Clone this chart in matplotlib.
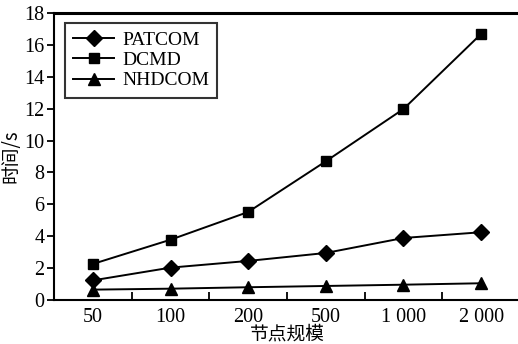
import matplotlib
matplotlib.use("Agg")
import matplotlib.pyplot as plt
import numpy as np

plt.rcParams['font.family'] = ['Liberation Serif', 'Noto Sans CJK SC']
plt.rcParams['mathtext.fontset'] = 'stix'

sizes = ['50', '100', '200', '500', '1 000', '2 000']
patcom = [1.23, 2.03, 2.45, 2.95, 3.89, 4.25]
dcmd = [2.26, 3.78, 5.52, 8.70, 11.98, 16.69]
nhdcom = [0.65, 0.71, 0.80, 0.88, 0.96, 1.05]

fig = plt.figure(figsize=(5.18, 3.44), dpi=100)
ax = fig.add_axes([54 / 518, 44 / 344, 466 / 518, 287 / 344])

x = np.arange(len(sizes))
ax.plot(x, patcom, color='black', lw=1.4, marker='D', ms=8, label='PATCOM')
ax.plot(x, dcmd, color='black', lw=1.4, marker='s', ms=7.5, label='DCMD')
ax.plot(x, nhdcom, color='black', lw=1.4, marker='^', ms=9, label='NHDCOM')

ax.set_xlim(-0.5, 5.5)
ax.set_ylim(0, 18)
ax.set_xticks(x)
ax.set_xticklabels(sizes)
ax.set_xticks(x[:-1] + 0.5, minor=True)
ax.set_yticks(np.arange(0, 19, 2))
ax.tick_params(axis='x', which='major', length=0, labelsize=14.5, pad=6)
ax.tick_params(axis='x', which='minor', direction='in', length=6, width=1.3)
ax.tick_params(axis='y', direction='out', length=5, width=1.3, labelsize=14.5, pad=2)

for s in ['left', 'bottom']:
    ax.spines[s].set_linewidth(1.5)
ax.spines['top'].set_linewidth(2.2)
ax.spines['right'].set_visible(False)

ax.set_xlabel('节点规模', fontsize=13.5, family=['Noto Sans CJK SC'], labelpad=-2.5)
ax.set_ylabel('时间/s', fontsize=13.5, family=['Noto Sans CJK SC', 'Liberation Serif'], labelpad=2)

leg = ax.legend(loc='upper left', bbox_to_anchor=(0.024, 0.965), fontsize=14,
                frameon=True, fancybox=False, edgecolor='black',
                handlelength=2.1, handletextpad=0.4, borderpad=0.42,
                labelspacing=0.14, borderaxespad=0)
leg.get_frame().set_linewidth(1.5)

fig.savefig('out.png', dpi=100)
